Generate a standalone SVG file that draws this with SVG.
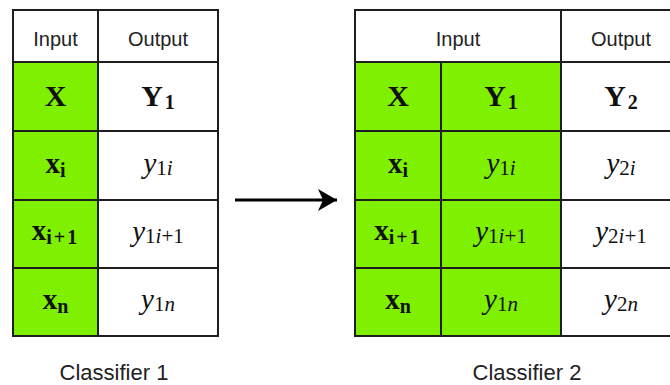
<svg xmlns="http://www.w3.org/2000/svg" width="670" height="385" viewBox="0 0 670 385">
<style>
.cell{stroke:#1e1e1e;stroke-width:2}
.g{fill:#7ff000}
.w{fill:#ffffff}
.hd{font-family:"Liberation Sans",Arial,sans-serif;font-size:20px;fill:#222;text-anchor:middle}
.lbl{font-family:"Liberation Sans",Arial,sans-serif;font-size:22px;fill:#222;text-anchor:middle}
.mb{font-family:"Liberation Serif","Times New Roman",serif;font-weight:bold;fill:#111;text-anchor:middle}
.mi{font-family:"Liberation Serif","Times New Roman",serif;font-style:italic;fill:#111;text-anchor:middle;font-size:29px}
.cap{font-size:30px}
.low{font-size:29px}
.sb{font-size:20px}
.su{font-size:21px;font-style:normal}
.sit{font-size:21px;font-style:italic}
.plus{letter-spacing:2px}
</style>
<defs>
<marker id="ah" markerWidth="20" markerHeight="24" refX="19" refY="12" markerUnits="userSpaceOnUse" orient="auto">
<path d="M0,1 L19,12 L0,23 L5,12 Z" fill="#000"/>
</marker>
</defs>
<rect x="0" y="0" width="670" height="385" fill="#ffffff"/>

<g id="classifier1">
<g id="c1-header">
<rect class="cell w" x="13" y="10" width="85" height="52"/>
<rect class="cell w" x="98" y="10" width="120" height="52"/>
<text class="hd" x="55.5" y="46">Input</text>
<text class="hd" x="158" y="46">Output</text>
</g>
<g id="c1-row1">
<rect class="cell g" x="13" y="62" width="85" height="69"/>
<rect class="cell w" x="98" y="62" width="120" height="69"/>
<text class="mb cap" x="55.5" y="106">X</text>
<text class="mb cap" x="158" y="106">Y<tspan class="sb" dx="2" dy="3">1</tspan></text>
</g>
<g id="c1-row2">
<rect class="cell g" x="13" y="131" width="85" height="69"/>
<rect class="cell w" x="98" y="131" width="120" height="69"/>
<text class="mb low" x="55.5" y="173">x<tspan class="sb" dy="4">i</tspan></text>
<text class="mi" x="158" y="173">y<tspan class="su" dy="2">1</tspan><tspan class="sit">i</tspan></text>
</g>
<g id="c1-row3">
<rect class="cell g" x="13" y="200" width="85" height="68"/>
<rect class="cell w" x="98" y="200" width="120" height="68"/>
<text class="mb low" x="55.5" y="240">x<tspan class="sb plus" dy="4">i+1</tspan></text>
<text class="mi" x="158" y="241">y<tspan class="su" dy="2">1</tspan><tspan class="sit">i</tspan><tspan class="su">+1</tspan></text>
</g>
<g id="c1-row4">
<rect class="cell g" x="13" y="268" width="85" height="68"/>
<rect class="cell w" x="98" y="268" width="120" height="68"/>
<text class="mb low" x="55.5" y="309">x<tspan class="sb" dy="4">n</tspan></text>
<text class="mi" x="158" y="309">y<tspan class="su" dy="2">1</tspan><tspan class="sit">n</tspan></text>
</g>
<text class="lbl" x="114" y="380">Classifier 1</text>
</g>

<g id="connectors">
<line x1="235" y1="200" x2="337" y2="200" stroke="#000" stroke-width="3" marker-end="url(#ah)"/>
</g>

<g id="classifier2">
<g id="c2-header">
<rect class="cell w" x="355" y="10" width="206" height="52"/>
<rect class="cell w" x="561" y="10" width="120" height="52"/>
<text class="hd" x="458" y="46">Input</text>
<text class="hd" x="621" y="46">Output</text>
</g>
<g id="c2-row1">
<rect class="cell g" x="355" y="62" width="86" height="69"/>
<rect class="cell g" x="441" y="62" width="120" height="69"/>
<rect class="cell w" x="561" y="62" width="120" height="69"/>
<text class="mb cap" x="398" y="106">X</text>
<text class="mb cap" x="501" y="106">Y<tspan class="sb" dx="2" dy="3">1</tspan></text>
<text class="mb cap" x="621" y="106">Y<tspan class="sb" dx="2" dy="3">2</tspan></text>
</g>
<g id="c2-row2">
<rect class="cell g" x="355" y="131" width="86" height="69"/>
<rect class="cell g" x="441" y="131" width="120" height="69"/>
<rect class="cell w" x="561" y="131" width="120" height="69"/>
<text class="mb low" x="398" y="173">x<tspan class="sb" dy="4">i</tspan></text>
<text class="mi" x="501" y="173">y<tspan class="su" dy="2">1</tspan><tspan class="sit">i</tspan></text>
<text class="mi" x="621" y="173">y<tspan class="su" dy="2">2</tspan><tspan class="sit">i</tspan></text>
</g>
<g id="c2-row3">
<rect class="cell g" x="355" y="200" width="86" height="68"/>
<rect class="cell g" x="441" y="200" width="120" height="68"/>
<rect class="cell w" x="561" y="200" width="120" height="68"/>
<text class="mb low" x="398" y="240">x<tspan class="sb plus" dy="4">i+1</tspan></text>
<text class="mi" x="501" y="241">y<tspan class="su" dy="2">1</tspan><tspan class="sit">i</tspan><tspan class="su">+1</tspan></text>
<text class="mi" x="621" y="241">y<tspan class="su" dy="2">2</tspan><tspan class="sit">i</tspan><tspan class="su">+1</tspan></text>
</g>
<g id="c2-row4">
<rect class="cell g" x="355" y="268" width="86" height="68"/>
<rect class="cell g" x="441" y="268" width="120" height="68"/>
<rect class="cell w" x="561" y="268" width="120" height="68"/>
<text class="mb low" x="398" y="309">x<tspan class="sb" dy="4">n</tspan></text>
<text class="mi" x="501" y="309">y<tspan class="su" dy="2">1</tspan><tspan class="sit">n</tspan></text>
<text class="mi" x="621" y="309">y<tspan class="su" dy="2">2</tspan><tspan class="sit">n</tspan></text>
</g>
<text class="lbl" x="527" y="380">Classifier 2</text>
</g>
</svg>
